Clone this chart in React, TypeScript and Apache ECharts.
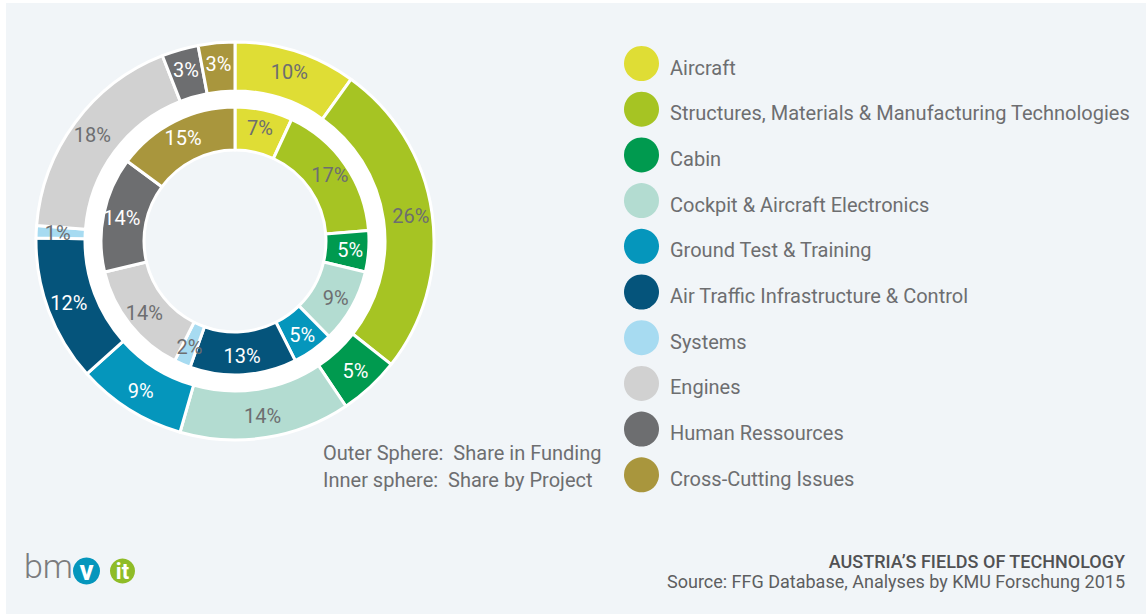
import React, { useEffect, useRef } from "react";
import * as echarts from "echarts";

const categories = [
  "Aircraft",
  "Structures, Materials & Manufacturing Technologies",
  "Cabin",
  "Cockpit & Aircraft Electronics",
  "Ground Test & Training",
  "Air Traffic Infrastructure & Control",
  "Systems",
  "Engines",
  "Human Ressources",
  "Cross-Cutting Issues",
];
const colors = [
  "#dfdd35",
  "#a6c423",
  "#009a4f",
  "#b3dcd1",
  "#0596bc",
  "#05547b",
  "#a7dbf1",
  "#d1d1d1",
  "#6d6e70",
  "#a9963d",
];
const labelColors = [
  "#6d6e70",
  "#6d6e70",
  "#ffffff",
  "#6d6e70",
  "#ffffff",
  "#ffffff",
  "#6d6e70",
  "#6d6e70",
  "#ffffff",
  "#ffffff",
];
// Outer sphere: share in funding (%)
const fundingShare = [10, 26, 5, 14, 9, 12, 1, 18, 3, 3];
// Inner sphere: share by project (%)
const projectShare = [7, 17, 5, 9, 5, 13, 2, 14, 14, 15];

const FONT = "Roboto, 'DejaVu Sans', sans-serif";
const GREY = "#6d6e70";

function buildData(values: number[]) {
  return categories.map((name, i) => ({
    name,
    value: values[i],
    itemStyle: { color: colors[i] },
    label: { color: labelColors[i] },
  }));
}

export default function App() {
  const ref = useRef<HTMLDivElement>(null);
  useEffect(() => {
    if (!ref.current) return;
    const chart = echarts.init(ref.current, null, { renderer: "svg" });
    const cx = 235;
    const cy = 241;
    const pieCommon = {
      type: "pie",
      center: [cx, cy],
      startAngle: 90,
      clockwise: true,
      avoidLabelOverlap: false,
      silent: true,
      itemStyle: { borderColor: "#ffffff", borderWidth: 3 },
      label: {
        show: true,
        position: "inside",
        formatter: "{c}%",
        fontFamily: FONT,
        fontSize: 20,
      },
      labelLine: { show: false },
      emphasis: { disabled: true },
    };
    chart.setOption({
      animation: false,
      backgroundColor: "#ffffff",
      legend: {
        orient: "vertical",
        left: 624,
        top: 46,
        padding: 0,
        icon: "circle",
        itemWidth: 35,
        itemHeight: 35,
        itemGap: 10.7,
        selectedMode: false,
        data: categories,
        itemStyle: { borderWidth: 0 },
        formatter: "{t|{name}}",
        textStyle: {
          fontFamily: FONT,
          fontSize: 20,
          color: GREY,
          rich: {
            t: {
              fontFamily: FONT,
              fontSize: 20,
              color: GREY,
              padding: [8, 0, 0, 6],
            },
          },
        },
      },
      graphic: [
        {
          type: "rect",
          z: -10,
          shape: { x: 6, y: 3, width: 1140, height: 611 },
          style: { fill: "#f1f5f8" },
        },
        {
          type: "ring",
          z: 1,
          shape: { cx, cy, r: 151, r0: 133 },
          style: { fill: "#ffffff" },
        },
        {
          type: "text",
          x: 323,
          y: 453,
          style: {
            text: "Outer Sphere:  Share in Funding",
            fontFamily: FONT,
            fontSize: 20,
            fill: GREY,
            textVerticalAlign: "middle",
          },
        },
        {
          type: "text",
          x: 323,
          y: 480,
          style: {
            text: "Inner sphere:  Share by Project",
            fontFamily: FONT,
            fontSize: 20,
            fill: GREY,
            textVerticalAlign: "middle",
          },
        },
        {
          type: "text",
          x: 1125,
          y: 561,
          style: {
            text: "AUSTRIA\u2019S FIELDS OF TECHNOLOGY",
            fontFamily: FONT,
            fontSize: 18,
            fontWeight: 500,
            fill: "#505153",
            textAlign: "right",
            textVerticalAlign: "middle",
          },
        },
        {
          type: "text",
          x: 1125,
          y: 581,
          style: {
            text: "Source: FFG Database, Analyses by KMU Forschung 2015",
            fontFamily: FONT,
            fontSize: 18,
            fill: "#5d5e60",
            textAlign: "right",
            textVerticalAlign: "middle",
          },
        },
        {
          type: "text",
          x: 24,
          y: 583,
          style: {
            text: "bm",
            fontFamily: FONT,
            fontSize: 34,
            fontWeight: 300,
            fill: "#7b7c7e",
            textVerticalAlign: "bottom",
          },
        },
        {
          type: "circle",
          shape: { cx: 86.5, cy: 571, r: 13.5 },
          style: { fill: "#0596bc" },
        },
        {
          type: "text",
          x: 86.5,
          y: 570,
          style: {
            text: "v",
            fontFamily: FONT,
            fontSize: 28,
            fontWeight: "bold",
            fill: "#ffffff",
            textAlign: "center",
            textVerticalAlign: "middle",
          },
        },
        {
          type: "circle",
          shape: { cx: 122.5, cy: 571, r: 12.5 },
          style: { fill: "#8fbc27" },
        },
        {
          type: "text",
          x: 122.5,
          y: 571,
          style: {
            text: "it",
            fontFamily: FONT,
            fontSize: 22,
            fontWeight: "bold",
            fill: "#ffffff",
            textAlign: "center",
            textVerticalAlign: "middle",
          },
        },
      ],
      series: [
        {
          ...pieCommon,
          name: "Share in Funding",
          radius: [150, 199],
          data: buildData(fundingShare),
        },
        {
          ...pieCommon,
          name: "Share by Project",
          radius: [91, 134],
          data: buildData(projectShare),
        },
      ],
    });
    return () => chart.dispose();
  }, []);
  return (
    <div
      ref={ref}
      style={{ position: "absolute", left: 0, top: 0, width: 1147, height: 614 }}
    />
  );
}
